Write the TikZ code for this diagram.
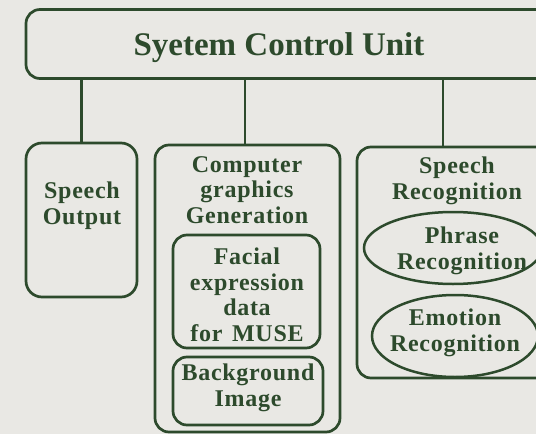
\documentclass[tikz,border=0pt]{standalone}
\usepackage{fontspec}
\setmainfont{Liberation Serif}
\usetikzlibrary{shapes.geometric}
\definecolor{ink}{HTML}{2D4A2C}
\definecolor{paper}{HTML}{E9E8E4}
\newfontfamily\boxfont[LetterSpace=3]{Liberation Serif}
\begin{document}
\begin{tikzpicture}[x=1pt,y=-1pt,
  frame/.style={draw=ink, line width=2.7pt, rounded corners=14pt, inner sep=0pt},
  oval/.style={ellipse, draw=ink, line width=2.5pt, inner sep=0pt},
  lbl/.style={text=ink, font=\boxfont\fontsize{24}{25.5}\selectfont\bfseries, align=center, inner sep=0pt, anchor=north},
  link/.style={draw=ink, line width=2.7pt}]
\fill[paper] (0,0) rectangle (536,434);
\useasboundingbox (0,0) rectangle (536,434);
\clip (0,0) rectangle (536,434);

% control unit across the top
\node[frame, minimum width=534pt, minimum height=69pt] (scu) at (293,44) {};
\node[lbl, anchor=base, font=\fontsize{33}{36}\selectfont\bfseries] (scut) at (279,55) {Syetem Control Unit};

% speech output
\node[frame, minimum width=111pt, minimum height=154pt, rounded corners=16pt] (so) at (81.5,220) {};
\node[lbl] (sot) at (82,182) {Speech\\Output};

% computer graphics generation with its two parts
\node[frame, minimum width=185pt, minimum height=287pt] (cg) at (247.5,288.5) {};
\node[lbl] (cgt) at (247,156) {Computer\\graphics\\Generation};
\node[frame, minimum width=147pt, minimum height=113pt] (fe) at (246.5,291.5) {};
\node[lbl] (fet) at (247,248) {Facial\\expression\\data\\for\hspace{0.4em}MUSE};
\node[frame, minimum width=150pt, minimum height=68pt] (bg) at (248,391) {};
\node[lbl] (bgt) at (248,364) {Background\\Image};

% speech recognition with its two recognisers
\node[frame, minimum width=200pt, minimum height=231pt] (sr) at (457,262.5) {};
\node[lbl] (srt) at (457,157) {Speech\\Recognition};
\node[oval, minimum width=178pt, minimum height=72pt] (pr) at (453,248) {};
\node[lbl] (prt) at (462,227) {Phrase\\Recognition};
\node[oval, minimum width=166pt, minimum height=82pt] (er) at (455,336) {};
\node[lbl] (ert) at (455,309) {Emotion\\Recognition};

% links from the control unit
\coordinate (srtop) at ([xshift=-14pt]sr.north);
\coordinate (cgtop) at ([xshift=-2.5pt]cg.north);
\draw[link] (so.north) -- (so.north |- scu.south);
\draw[link] (cgtop) -- (cgtop |- scu.south);
\draw[link] (srtop) -- (srtop |- scu.south);
\end{tikzpicture}
\end{document}
